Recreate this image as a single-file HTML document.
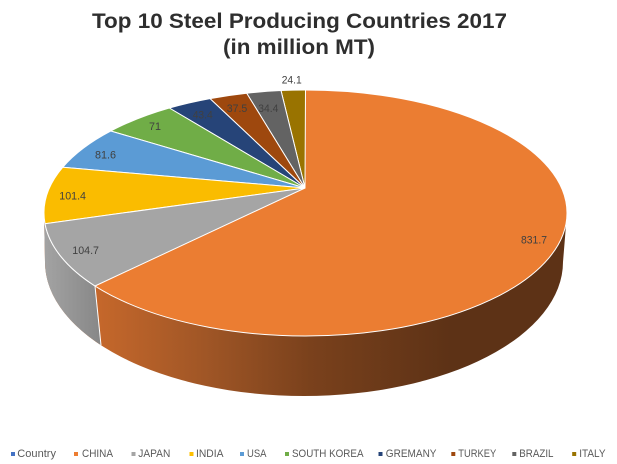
<!DOCTYPE html>
<html><head><meta charset="utf-8"><style>
html,body{margin:0;padding:0;background:#fff;}
svg{display:block;font-family:"Liberation Sans",Arial,sans-serif;}
</style></head><body>
<svg width="617" height="464" viewBox="0 0 617 464" xmlns="http://www.w3.org/2000/svg">
<defs>
<linearGradient id="cs" gradientUnits="userSpaceOnUse" x1="100" y1="0" x2="450" y2="0">
<stop offset="0" stop-color="#C4672B"/>
<stop offset="0.3" stop-color="#A05626"/>
<stop offset="0.6" stop-color="#7A411C"/>
<stop offset="1" stop-color="#5D3216"/>
</linearGradient>
<linearGradient id="js" gradientUnits="userSpaceOnUse" x1="44" y1="0" x2="101" y2="0">
<stop offset="0" stop-color="#A3A3A3"/>
<stop offset="1" stop-color="#878787"/>
</linearGradient>
</defs>
<rect width="617" height="464" fill="#fff"/>
<!-- title -->
<text x="299.5" y="28" text-anchor="middle" font-size="21" font-weight="bold" fill="#2e2e2e" textLength="415" lengthAdjust="spacingAndGlyphs">Top 10 Steel Producing Countries 2017</text>
<text x="299" y="54" text-anchor="middle" font-size="21" font-weight="bold" fill="#2e2e2e" textLength="152" lengthAdjust="spacingAndGlyphs">(in million MT)</text>

<!-- side -->
<path d="M44 213 L45 262 A259 134 0 0 0 563 262 L567 213 Z" fill="url(#cs)"/>
<path d="M44 213 L45 262 A259 134 0 0 0 101 345.2 L95 286 A261.5 123 0 0 1 44 213 Z" fill="url(#js)"/>
<line x1="95" y1="286" x2="101" y2="345.2" stroke="#fff" stroke-width="1"/>

<!-- top face -->
<ellipse cx="305.5" cy="213" rx="261.5" ry="123" fill="#EB7D32" stroke="#fff" stroke-width="1"/>
<g stroke="#fff" stroke-width="1" stroke-linejoin="round">
<path d="M305 188 L305.5 90 A261.5 123 0 0 0 281 90.5 Z" fill="#997300"/>
<path d="M305 188 L281 90.5 A261.5 123 0 0 0 246.7 93.2 Z" fill="#636363"/>
<path d="M305 188 L246.7 93.2 A261.5 123 0 0 0 210 98.6 Z" fill="#9E480E"/>
<path d="M305 188 L210 98.6 A261.5 123 0 0 0 169.3 108 Z" fill="#264478"/>
<path d="M305 188 L169.3 108 A261.5 123 0 0 0 110.7 131 Z" fill="#70AD47"/>
<path d="M305 188 L110.7 131 A261.5 123 0 0 0 62.7 167.3 Z" fill="#5B9BD5"/>
<path d="M305 188 L62.7 167.3 A261.5 123 0 0 0 45 223.7 Z" fill="#FAbC00"/>
<path d="M305 188 L45 223.7 A261.5 123 0 0 0 95 286 Z" fill="#A5A5A5"/>
</g>

<!-- data labels -->
<g font-size="10.8" fill="#404040">
<text x="521" y="243.5" textLength="26" lengthAdjust="spacingAndGlyphs">831.7</text>
<text x="72.3" y="254" textLength="26.7" lengthAdjust="spacingAndGlyphs">104.7</text>
<text x="59.3" y="199.3" textLength="26.7" lengthAdjust="spacingAndGlyphs">101.4</text>
<text x="95" y="158.3" textLength="21" lengthAdjust="spacingAndGlyphs">81.6</text>
<text x="149" y="130" textLength="12" lengthAdjust="spacingAndGlyphs">71</text>
<text x="192.7" y="118.3" textLength="20" lengthAdjust="spacingAndGlyphs">43.4</text>
<text x="226.7" y="112" textLength="20.6" lengthAdjust="spacingAndGlyphs">37.5</text>
<text x="258.3" y="112" textLength="20" lengthAdjust="spacingAndGlyphs">34.4</text>
<text x="281.7" y="83.3" textLength="20" lengthAdjust="spacingAndGlyphs">24.1</text>
</g>

<!-- legend -->
<g font-size="11" fill="#595959">
<rect x="11" y="452" width="4" height="4" fill="#4472C4"/>
<text x="17.3" y="457" textLength="38.7" lengthAdjust="spacingAndGlyphs">Country</text>
<rect x="74" y="452" width="4" height="4" fill="#ED7D31"/>
<text x="82" y="457" textLength="31" lengthAdjust="spacingAndGlyphs">CHINA</text>
<rect x="131.5" y="452" width="4" height="4" fill="#A5A5A5"/>
<text x="138.3" y="457" textLength="32" lengthAdjust="spacingAndGlyphs">JAPAN</text>
<rect x="189.5" y="452" width="4" height="4" fill="#FFC000"/>
<text x="196" y="457" textLength="27.5" lengthAdjust="spacingAndGlyphs">INDIA</text>
<rect x="240" y="452" width="4" height="4" fill="#5B9BD5"/>
<text x="247" y="457" textLength="19.5" lengthAdjust="spacingAndGlyphs">USA</text>
<rect x="285" y="452" width="4" height="4" fill="#70AD47"/>
<text x="292" y="457" textLength="71.5" lengthAdjust="spacingAndGlyphs">SOUTH KOREA</text>
<rect x="378.5" y="452" width="4" height="4" fill="#264478"/>
<text x="385.8" y="457" textLength="50.7" lengthAdjust="spacingAndGlyphs">GREMANY</text>
<rect x="451.3" y="452" width="4" height="4" fill="#9E480E"/>
<text x="458.3" y="457" textLength="38" lengthAdjust="spacingAndGlyphs">TURKEY</text>
<rect x="512.3" y="452" width="4" height="4" fill="#636363"/>
<text x="519.3" y="457" textLength="34.2" lengthAdjust="spacingAndGlyphs">BRAZIL</text>
<rect x="572.2" y="452" width="4" height="4" fill="#997300"/>
<text x="579.2" y="457" textLength="26.3" lengthAdjust="spacingAndGlyphs">ITALY</text>
</g>
</svg>
</body></html>
